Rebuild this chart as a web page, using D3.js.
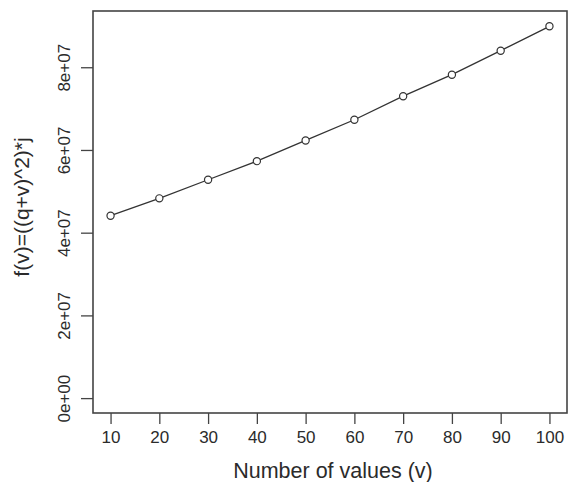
<!DOCTYPE html>
<html>
<head>
<meta charset="utf-8">
<title>f(v) chart</title>
<script src="https://d3js.org/d3.v7.min.js"></script>
<style>
body { margin: 0; padding: 0; background: white; }
svg text { font-family: "Liberation Sans", Arial, sans-serif; fill: #2b2b2b; }
</style>
</head>
<body>
<svg id="chart" width="572" height="482"></svg>
<script>
// values
var numValues = [10, 20, 30, 40, 50, 60, 70, 80, 90, 100];
var fValues = [4.41e7, 4.83e7, 5.28e7, 5.73e7, 6.23e7, 6.73e7, 7.30e7, 7.82e7, 8.40e7, 8.99e7];
var xTicks = [10, 20, 30, 40, 50, 60, 70, 80, 90, 100];
var yTicks = [0, 2e7, 4e7, 6e7, 8e7];
var yTickLabels = ["0e+00", "2e+07", "4e+07", "6e+07", "8e+07"];

var margin = {top: 11, right: 5, bottom: 69, left: 93},
    width = 572 - margin.left - margin.right,
    height = 482 - margin.top - margin.bottom;

var svg = d3.select("#chart")
  .append("g")
  .attr("transform", "translate(" + margin.left + "," + margin.top + ")");

// R style 4% padding on both axes
var xr = 100 - 10, yr = 9e7 - 0;
var x = d3.scaleLinear().domain([10 - 0.04 * xr, 100 + 0.04 * xr]).range([0, width]);
var y = d3.scaleLinear().domain([0 - 0.04 * yr, 9e7 + 0.04 * yr]).range([height, 0]);

var xAxis = d3.axisBottom(x).tickValues(xTicks).tickSize(11).tickPadding(7);
var yAxis = d3.axisLeft(y).tickValues(yTicks).tickSize(12)
  .tickFormat(function(d, i) { return yTickLabels[i]; });

var gx = svg.append("g")
  .attr("transform", "translate(0," + height + ")")
  .call(xAxis);
gx.select(".domain").remove();
gx.selectAll("line").attr("stroke", "#444").attr("stroke-width", 1.3);
gx.selectAll("text").style("font-size", "17px").attr("fill", "#2b2b2b");

var gy = svg.append("g").call(yAxis);
gy.select(".domain").remove();
gy.selectAll("line").attr("stroke", "#444").attr("stroke-width", 1.3);
// rotated tick labels like R's default las=0
gy.selectAll("text")
  .style("font-size", "17px")
  .attr("fill", "#2b2b2b")
  .attr("text-anchor", "middle")
  .attr("x", null)
  .attr("dy", 0)
  .attr("transform", "translate(-23,0) rotate(-90)");

// box
svg.append("rect")
  .attr("x", 0).attr("y", 0)
  .attr("width", width).attr("height", height)
  .attr("fill", "none")
  .attr("stroke", "#444")
  .attr("stroke-width", 1.6);

var line = d3.line()
  .x(function(d, i) { return x(numValues[i]); })
  .y(function(d) { return y(d); });

svg.append("path")
  .datum(fValues)
  .attr("d", line)
  .attr("fill", "none")
  .attr("stroke", "#333")
  .attr("stroke-width", 1.3);

svg.selectAll(".pt")
  .data(fValues)
  .enter()
  .append("circle")
  .attr("class", "pt")
  .attr("cx", function(d, i) { return x(numValues[i]); })
  .attr("cy", function(d) { return y(d); })
  .attr("r", 3.6)
  .attr("fill", "white")
  .attr("stroke", "#333")
  .attr("stroke-width", 1.2);

// axis titles
svg.append("text")
  .attr("x", (x(10) + x(100)) / 2 + 3)
  .attr("y", height + 65)
  .attr("text-anchor", "middle")
  .style("font-size", "21.5px")
  .text("Number of values (v)");

svg.append("text")
  .attr("transform", "translate(" + (-64) + "," + (height / 2 - 5) + ") rotate(-90)")
  .attr("text-anchor", "middle")
  .style("font-size", "21px")
  .text("f(v)=((q+v)^2)*j");
</script>
</body>
</html>
